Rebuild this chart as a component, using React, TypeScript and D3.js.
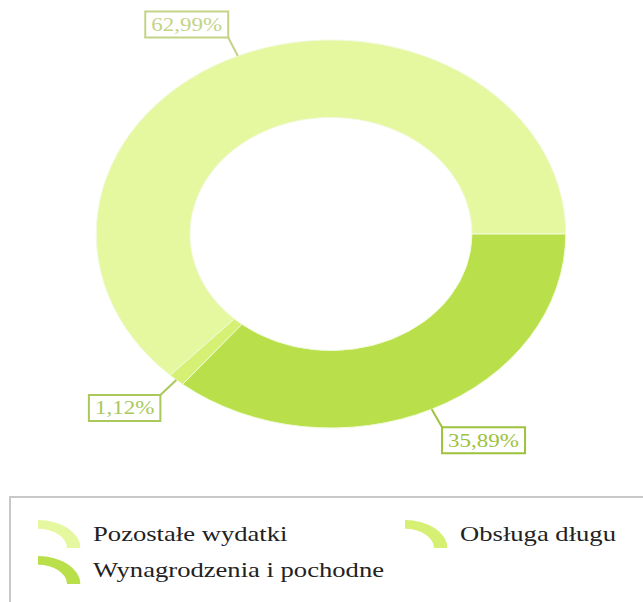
import React from "react";
import * as d3 from "d3";

// budget shares, in legend order
const categories = ["Pozostałe wydatki", "Obsługa długu", "Wynagrodzenia i pochodne"];
const shares = [62.99, 1.12, 35.89];
const sliceColors = ["#e5f8a0", "#d5f072", "#b9e04b"];
const labelColors = ["#c3d488", "#aac85c", "#9dc23c"];

const W = 643;
const H = 602;
const SX = 1.21; // the original is stretched horizontally
const cx = 331 / SX;
const cy = 234;
const outerR = 194;
const innerR = 116.5;
const FONT = "'Liberation Serif', 'Times New Roman', serif";

const measure = (txt: string, size: number) => {
  const ctx = document.createElement("canvas").getContext("2d");
  if (!ctx) return txt.length * size * 0.5;
  ctx.font = `${size}px ${FONT}`;
  return ctx.measureText(txt).width;
};

export default function App() {
  const pie = d3
    .pie<number>()
    .sort(null)
    .value((d) => d)
    .startAngle(Math.PI * 2.5)
    .endAngle(Math.PI * 0.5);
  const arcs = pie(shares);

  const arc = d3.arc<d3.PieArcDatum<number>>().innerRadius(innerR).outerRadius(outerR);

  const iconArc = d3
    .arc()
    .innerRadius(24)
    .outerRadius(35)
    .startAngle(0)
    .endAngle(Math.PI / 2);

  const labels = arcs.map((a, i) => {
    const mid = (a.startAngle + a.endAngle) / 2;
    const dx = Math.sin(mid);
    const dy = -Math.cos(mid);
    const x0 = cx + outerR * dx;
    const y0 = cy + outerR * dy;
    const x1 = cx + (outerR + 20) * dx;
    const y1 = cy + (outerR + 20) * dy;
    const txt = shares[i].toFixed(2).replace(".", ",") + "%";
    const w = measure(txt, 19) + 10;
    const h = 26;
    const bx = dx < 0 ? x1 - w : x1;
    const by = dy < 0 ? y1 - h : y1;
    return { x0, y0, x1, y1, txt, w, h, bx, by, color: labelColors[i] };
  });

  const legendCols = [38 / SX, 405 / SX];
  const legendRows = [548, 584];

  return (
    <svg
      width={W}
      height={H}
      style={{ position: "absolute", left: 0, top: 0, background: "#fff" }}
    >
      <g transform={`scale(${SX},1)`}>
        <g transform={`translate(${cx},${cy})`}>
          {arcs.map((a, i) => (
            <path
              key={i}
              d={arc(a) || ""}
              fill={sliceColors[i]}
              stroke="#f2fadc"
              strokeWidth={1}
              vectorEffect="non-scaling-stroke"
            />
          ))}
        </g>

        {labels.map((l, i) => (
          <g key={i}>
            <line
              x1={l.x0}
              y1={l.y0}
              x2={l.x1}
              y2={l.y1}
              stroke={l.color}
              strokeWidth={2}
              vectorEffect="non-scaling-stroke"
            />
            <rect
              x={l.bx}
              y={l.by}
              width={l.w}
              height={l.h}
              fill="#fff"
              stroke={l.color}
              strokeWidth={2}
              vectorEffect="non-scaling-stroke"
            />
            <text
              x={l.bx + l.w / 2}
              y={l.by + l.h / 2 + 6.5}
              textAnchor="middle"
              fontFamily={FONT}
              fontSize={19}
              fill={l.color}
            >
              {l.txt}
            </text>
          </g>
        ))}

        {categories.map((c, i) => {
          const x = legendCols[i % 2];
          const y = legendRows[Math.floor(i / 2)];
          return (
            <g key={c}>
              <path
                d={iconArc({} as any) || ""}
                transform={`translate(${x},${y}) scale(1,0.8)`}
                fill={sliceColors[i]}
              />
              <text x={x + 45.5} y={y - 7} fontFamily={FONT} fontSize={22} fill="#222">
                {c}
              </text>
            </g>
          );
        })}
      </g>

      <rect x={10} y={497} width={700} height={200} fill="none" stroke="#c8c8c8" strokeWidth={2} />
    </svg>
  );
}
